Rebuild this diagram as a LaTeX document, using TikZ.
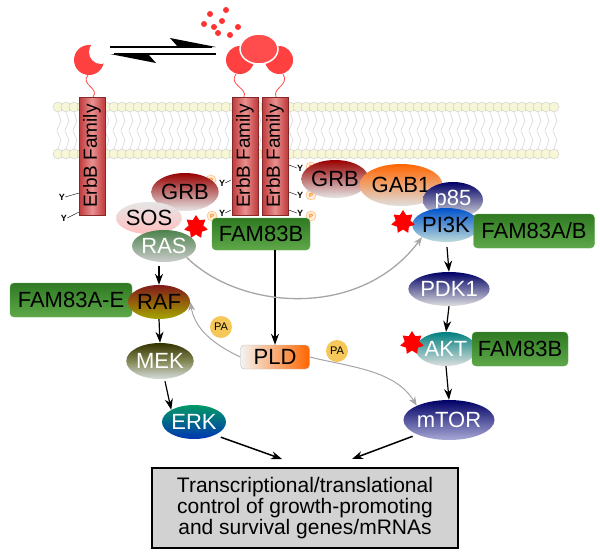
\documentclass[tikz,border=0pt]{standalone}
\usepackage{fontspec}
\setmainfont{Liberation Sans}
\usetikzlibrary{shapes.geometric,arrows.meta}
\begin{document}
\begin{tikzpicture}[x=1pt,y=-1pt,
  el/.style n args={4}{ellipse,inner sep=0pt,minimum width=#3,minimum height=#4,top color=#1,bottom color=#2,font=\fontsize{22}{22}\selectfont},
  fam/.style={rectangle,rounded corners=4pt,top color=fg1,bottom color=fg2,draw=fg2,font=\fontsize{22}{22}\selectfont,inner sep=1pt},
  rec/.style={rectangle,minimum width=26pt,minimum height=118pt,left color=rc1,right color=rc1,middle color=rc2,draw=rc1!70!black,inner sep=0pt},
  star7/.style={star,star points=7,star point ratio=1.6,fill=red,inner sep=0pt,minimum size=24pt},
  pa/.style={circle,fill=paY,inner sep=0pt,minimum size=22pt,font=\fontsize{11}{11}\selectfont},
  pp/.style={circle,fill=orange!15,draw=orange!60,inner sep=0pt,minimum size=10pt,font=\fontsize{6}{6}\bfseries\selectfont,text=orange},
  ar/.style={-{Stealth[length=11pt,width=8pt]},line width=1.5pt},
  gar/.style={-{Stealth[length=9pt,width=7pt]},line width=1.5pt,draw=gray!70},
  yy/.style={font=\fontsize{9}{9}\bfseries\selectfont,inner sep=0pt}]
\definecolor{fg1}{HTML}{2F7A22}\definecolor{fg2}{HTML}{5EA84A}
\definecolor{rc1}{HTML}{C0393B}\definecolor{rc2}{HTML}{E89090}
\definecolor{paY}{HTML}{F6C85A}
\useasboundingbox (0,0) rectangle (600,557);
\fill[white] (0,0) rectangle (600,557);
% membrane
\foreach \i in {0,...,62}{
  \draw[blue!10!gray!30,line width=0.6pt] (58+8*\i,112) -- (61+8*\i,121) -- (57+8*\i,130);
  \draw[blue!10!gray!30,line width=0.6pt] (58+8*\i,149) -- (61+8*\i,140) -- (57+8*\i,131);
  \fill[gray!35!yellow!20!white,draw=gray!40] (58+8*\i,107) circle (5);
  \fill[gray!35!yellow!20!white,draw=gray!40] (58+8*\i,154) circle (5);
}
% ligands
\foreach \p in {(210,14),(204,24),(214,27),(222,21),(218,33),(230,35),(238,27),(226,10)}{\fill[red!80] \p circle (3);}
\fill[red!75] (89,60) circle (15);
\fill[white] (101,52) circle (12);
\fill[red!75] (240,60) circle (14);\fill[red!75] (279,60) circle (14);
\node[ellipse,minimum width=38pt,minimum height=30pt,fill=red!70,draw=white,line width=1.5pt] (lig) at (259,49) {};
\draw[red!70,line width=0.8pt] (88,75) .. controls (80,85) and (100,88) .. (93,97);
\draw[red!70,line width=0.8pt] (236,74) .. controls (228,85) and (248,88) .. (244,97);
\draw[red!70,line width=0.8pt] (283,74) .. controls (290,85) and (272,88) .. (276,97);
% equilibrium
\draw[line width=1.3pt] (110,47) -- (212,47);
\fill (216,47) -- (170,38) -- (178,47) -- cycle;
\draw[line width=1.3pt] (216,54) -- (114,54);
\fill (110,54) -- (156,63) -- (148,54) -- cycle;
% receptors
\node[rec] (r1) at (92,156) {\rotatebox{90}{\fontsize{19}{19}\selectfont ErbB Family}};
\node[rec] (r2) at (245,156) {\rotatebox{90}{\fontsize{19}{19}\selectfont ErbB Family}};
\node[rec] (r3) at (275,156) {\rotatebox{90}{\fontsize{19}{19}\selectfont ErbB Family}};
% Y residues
\node[yy] (y1) at (62,197) {Y}; \draw (y1.east) -- (79,193);
\node[yy] (y2) at (64,218) {Y}; \draw (y2.east) -- (79,212);
\node[yy] (y3) at (222,183) {Y}; \draw (y3.east) -- (231,180); \node[pp] at (211,180) {P};
\node[yy] (y4) at (222,213) {Y}; \draw (y4.east) -- (231,210); \node[pp] at (212,216) {P};
\node[yy] (y5) at (300,168) {Y}; \draw (y5.west) -- (289,165); \node[pp] at (311,167) {P};
\node[yy] (y6) at (300,195) {Y}; \draw (y6.west) -- (289,192); \node[pp] at (311,195) {P};
\node[yy] (y7) at (300,213) {Y}; \draw (y7.west) -- (289,210); \node[pp] at (311,216) {P};
% left cluster
\node[el={red!60!black}{gray!20}{58pt}{38pt}] (grb1) at (185,192) {GRB};
\node[el={gray!20}{red!25}{50pt}{32pt}] (sos) at (149,218) {SOS};
\node[el={green!30!black!70}{gray!40}{50pt}{32pt},text=white] (ras) at (164,246) {RAS};
\node[star7] (s1) at (196,227) {};
\node[fam,minimum width=98pt,minimum height=32pt] (f1) at (261,234) {FAM83B};
% right cluster
\node[el={red!60!black}{gray!20}{58pt}{38pt}] (grb2) at (335,179) {GRB};
\node[el={orange!80!red}{gray!25}{80pt}{42pt}] (gab) at (401,185) {GAB1};
\node[el={blue!40!black}{gray!25}{60pt}{36pt},text=white] (p85) at (453,200) {p85};
\node[el={blue!60!cyan!80!black}{cyan!30!gray!40}{66pt}{34pt}] (pi3k) at (446,225) {PI3K};
\node[star7] (s2) at (403,222) {};
\node[fam,minimum width=121pt,minimum height=34pt] (f2) at (534,231) {FAM83A/B};
\node[el={blue!40!black}{gray!25}{66pt}{34pt},text=white] (pdk) at (449,289) {PDK1};
\node[el={cyan!50!black}{gray!25}{50pt}{34pt},text=white] (akt) at (446,349) {AKT};
\node[star7] (s3) at (412,343) {};
\node[fam,minimum width=96pt,minimum height=34pt] (f3) at (520,349) {FAM83B};
\node[el={blue!40!black}{blue!35!gray!50}{80pt}{40pt},text=white] (mtor) at (449,420) {mTOR};
% left pathway
\node[fam,minimum width=122pt,minimum height=34pt] (f4) at (71,300) {FAM83A-E};
\node[el={red!45!black!90}{olive!70}{54pt}{34pt}] (raf) at (159,302) {RAF};
\node[el={olive!40!black}{cyan!10!gray!30}{66pt}{36pt},text=white] (mek) at (160,361) {MEK};
\node[el={teal!80!green}{blue!70!cyan!70!black}{64pt}{34pt},text=white] (erk) at (194,422) {ERK};
\node[rectangle,rounded corners=4pt,minimum width=69pt,minimum height=24pt,inner sep=0pt,left color=yellow!10!gray!10,right color=orange!80!red,draw=gray!50,font=\fontsize{22}{22}\selectfont] (pld) at (275,357) {PLD};
\node[pa] (pa1) at (221,327) {PA};
\node[pa] (pa2) at (337,351) {PA};
\node[draw,line width=1.3pt,fill=gray!35,minimum width=306pt,minimum height=80pt,align=center,inner sep=2pt,font=\fontsize{21}{21}\selectfont] (box) at (305,508) {Transcriptional/translational\\control of growth-promoting\\ and survival genes/mRNAs};
% arrows
\draw[ar,line width=1.2pt] (ras.south -| raf.north) ++(0,4) -- (raf.north);
\draw[ar,line width=1.2pt] (raf.south) -- (mek.north);
\draw[ar,line width=1.2pt] (mek.south) ++(5,2) -- (erk.north west);
\draw[ar,line width=1.2pt] (f1.south -| pld.north) -- (pld.north);
\draw[ar,line width=1.2pt] (pi3k.south) ++(1,5) -- (pdk.north);
\draw[ar,line width=1.2pt] (pdk.south) -- (akt.north);
\draw[ar,line width=1.2pt] (akt.south) -- (mtor.north);
\draw[ar] (erk.south east) ++(4,3) -- (282,459);
\draw[ar] (mtor.south west) ++(-4,2) -- (352,459);
\draw[gar,line width=1.3pt] (ras.south east) .. controls (240,310) and (360,320) .. (pi3k.south west);
\draw[gar,line width=1pt] (pld.west) .. controls (215,345) and (195,330) .. (raf.east);
\draw[gar,line width=1pt] (pld.east) .. controls (350,367) and (395,370) .. (mtor.north west);
\end{tikzpicture}
\end{document}
